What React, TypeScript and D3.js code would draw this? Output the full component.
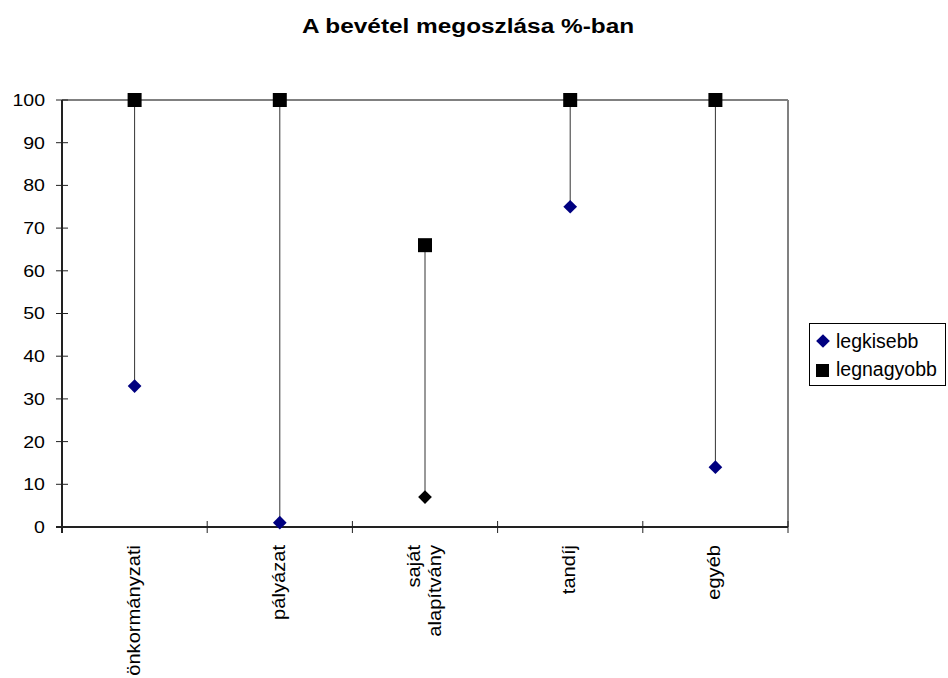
import React from "react";
import * as d3 from "d3";

const categories: string[][] = [
  ["önkormányzati"],
  ["pályázat"],
  ["saját", "alapítvány"],
  ["tandíj"],
  ["egyéb"],
];
const minValues = [33, 1, 7, 75, 14];
const maxValues = [100, 100, 66, 100, 100];
const minColors = ["#000080", "#000080", "#000000", "#000080", "#000080"];
const yTicks = [0, 10, 20, 30, 40, 50, 60, 70, 80, 90, 100];
const seriesNames = ["legkisebb", "legnagyobb"];
const title = "A bevétel megoszlása %-ban";

const W = 948, H = 678;
const left = 62, right = 788, top = 100, bottom = 527;
const FONT = "'Liberation Sans', Arial, sans-serif";

export default function App() {
  const x = d3.scaleBand<number>().domain(d3.range(categories.length)).range([left, right]);
  const y = d3.scaleLinear().domain([0, 100]).range([bottom, top]);
  const bounds = d3.range(categories.length + 1).map((i) => left + i * x.bandwidth());
  const diamond = d3.symbol(d3.symbolDiamond2, 120)();
  const square = d3.symbol(d3.symbolSquare, 196)();

  return (
    <svg width={W} height={H} style={{ position: "absolute", left: 0, top: 0, background: "#fff" }}>
      <text x={468} y={33} textAnchor="middle" fontFamily={FONT} fontWeight="bold" fontSize={19.5}
        transform={`translate(468,0) scale(1.25,1) translate(-468,0)`}>{title}</text>

      {/* plot border */}
      <line x1={left} x2={right} y1={top} y2={top} stroke="#808080" strokeWidth={2} />
      <line x1={right} x2={right} y1={top} y2={bottom} stroke="#808080" strokeWidth={2} />

      {/* y axis */}
      <line x1={left} x2={left} y1={top} y2={bottom + 6} stroke="#222" strokeWidth={2} />
      {yTicks.map((t) => (
        <g key={t}>
          <line x1={56} x2={68} y1={y(t)} y2={y(t)} stroke="#222" strokeWidth={1} />
          <text x={45} y={y(t) + 6} textAnchor="end" fontFamily={FONT} fontSize={17}
            transform={`translate(45,0) scale(1.15,1) translate(-45,0)`}>{t}</text>
        </g>
      ))}

      {/* x axis */}
      <line x1={left - 6} x2={right} y1={bottom} y2={bottom} stroke="#222" strokeWidth={2} />
      {bounds.map((b, i) => (
        <line key={i} x1={b} x2={b} y1={bottom - 6} y2={bottom + 6} stroke="#222" strokeWidth={1} />
      ))}
      {categories.map((lines, i) => {
        const cx = (x(i) as number) + x.bandwidth() / 2;
        return lines.map((ln, j) => {
          const lx = cx + (j - (lines.length - 1) / 2) * 21 + 5;
          return (
            <text key={i + "-" + j} transform={`translate(${lx},545) rotate(-90) scale(1.15,1)`}
              textAnchor="end" fontFamily={FONT} fontSize={17.5}>{ln}</text>
          );
        });
      })}

      {/* high-low lines */}
      {categories.map((_, i) => {
        const cx = (x(i) as number) + x.bandwidth() / 2;
        return <line key={"hl" + i} x1={cx} x2={cx} y1={y(minValues[i])} y2={y(maxValues[i])} stroke="#333" strokeWidth={1} />;
      })}
      {minValues.map((v, i) => {
        const cx = (x(i) as number) + x.bandwidth() / 2;
        return <path key={"mn" + i} d={diamond as string} transform={`translate(${cx},${y(v)})`} fill={minColors[i]} />;
      })}
      {maxValues.map((v, i) => {
        const cx = (x(i) as number) + x.bandwidth() / 2;
        return <path key={"mx" + i} d={square as string} transform={`translate(${cx},${y(v)})`} fill="#000" />;
      })}

      {/* legend */}
      <rect x={809.5} y={323.5} width={136} height={62} fill="#fff" stroke="#000" strokeWidth={1} />
      <path d={diamond as string} transform="translate(823,341)" fill="#000080" />
      <text x={836} y={348} fontFamily={FONT} fontSize={19.5}>{seriesNames[0]}</text>
      <rect x={816} y={364} width={13} height={13} fill="#000" />
      <text x={836} y={376} fontFamily={FONT} fontSize={19.5}>{seriesNames[1]}</text>
    </svg>
  );
}
